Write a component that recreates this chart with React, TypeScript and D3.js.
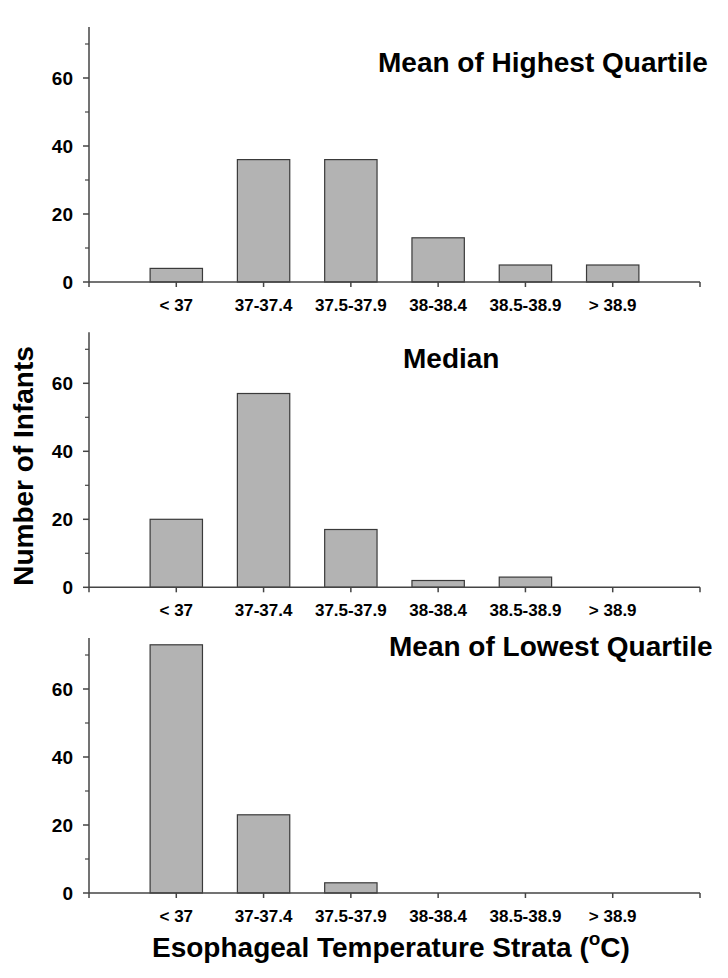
import React, { useEffect, useRef } from 'react';
import * as d3 from 'd3';

const categories = ['< 37', '37-37.4', '37.5-37.9', '38-38.4', '38.5-38.9', '> 38.9'];
const highest = [4, 36, 36, 13, 5, 5];
const median = [20, 57, 17, 2, 3, 0];
const lowest = [73, 23, 3, 0, 0, 0];
const yMajorTicks = [0, 20, 40, 60];
const yMinorTicks = [10, 30, 50, 70];

const panels = [
  { title: 'Mean of Highest Quartile', values: highest, zero: 282, titleX: 378, titleY: 72 },
  { title: 'Median', values: median, zero: 587.3, titleX: 403, titleY: 368 },
  { title: 'Mean of Lowest Quartile', values: lowest, zero: 893, titleX: 389, titleY: 656 },
];

const FONT = '"Liberation Sans", Arial, sans-serif';

const App = () => {
  const ref = useRef<SVGSVGElement>(null);

  useEffect(() => {
    const svg = d3.select(ref.current);
    svg.selectAll('*').remove();

    const left = 89;
    const right = 700;
    // positions 0..7, categories sit at 1..6
    const x = d3.scaleLinear().domain([0, categories.length + 1]).range([left, right]);
    const step = x(1) - x(0);
    const barW = step * 0.6;

    panels.forEach((p) => {
      const y = d3.scaleLinear().domain([0, 75]).range([p.zero, p.zero - 255]);
      const g = svg.append('g');

      // bars
      g.selectAll('.bar')
        .data(p.values.map((v, i) => ({ v, i })).filter((d) => d.v > 0))
        .enter()
        .append('rect')
        .attr('x', (d) => x(d.i + 1) - barW / 2)
        .attr('y', (d) => y(d.v))
        .attr('width', barW)
        .attr('height', (d) => y(0) - y(d.v))
        .attr('fill', '#b3b3b3')
        .attr('stroke', '#3a3a3a')
        .attr('stroke-width', 1.2);

      // y axis
      g.append('line')
        .attr('x1', left).attr('x2', left)
        .attr('y1', y(0)).attr('y2', y(75))
        .attr('stroke', '#444').attr('stroke-width', 1.5);
      g.selectAll('.ymaj')
        .data(yMajorTicks)
        .enter()
        .append('line')
        .attr('x1', left - 6).attr('x2', left)
        .attr('y1', (d) => y(d)).attr('y2', (d) => y(d))
        .attr('stroke', '#444').attr('stroke-width', 1.5);
      g.selectAll('.ymin')
        .data(yMinorTicks)
        .enter()
        .append('line')
        .attr('x1', left - 4).attr('x2', left)
        .attr('y1', (d) => y(d)).attr('y2', (d) => y(d))
        .attr('stroke', '#444').attr('stroke-width', 1.2);
      g.selectAll('.ylab')
        .data(yMajorTicks)
        .enter()
        .append('text')
        .attr('x', 73)
        .attr('y', (d) => y(d))
        .attr('dy', '0.36em')
        .attr('text-anchor', 'end')
        .attr('font-family', FONT)
        .attr('font-weight', 'bold')
        .attr('font-size', 19)
        .text((d) => d);

      // x axis
      g.append('line')
        .attr('x1', left).attr('x2', right)
        .attr('y1', y(0)).attr('y2', y(0))
        .attr('stroke', '#444').attr('stroke-width', 1.5);
      g.selectAll('.xt')
        .data(d3.range(categories.length + 2))
        .enter()
        .append('line')
        .attr('x1', (d) => x(d)).attr('x2', (d) => x(d))
        .attr('y1', y(0)).attr('y2', y(0) + 5)
        .attr('stroke', '#444').attr('stroke-width', 1.5);
      g.selectAll('.xlab')
        .data(categories)
        .enter()
        .append('text')
        .attr('x', (d, i) => x(i + 1))
        .attr('y', y(0) + 29)
        .attr('text-anchor', 'middle')
        .attr('font-family', FONT)
        .attr('font-weight', 'bold')
        .attr('font-size', 17)
        .text((d) => d);

      // panel title
      g.append('text')
        .attr('x', p.titleX)
        .attr('y', p.titleY)
        .attr('font-family', FONT)
        .attr('font-weight', 'bold')
        .attr('font-size', 28)
        .text(p.title);
    });

    // axis titles
    svg.append('text')
      .attr('transform', 'translate(33,466) rotate(-90)')
      .attr('text-anchor', 'middle')
      .attr('font-family', FONT)
      .attr('font-weight', 'bold')
      .attr('font-size', 28)
      .text('Number of Infants');

    const xt = svg.append('text')
      .attr('x', 152)
      .attr('y', 957)
      .attr('font-family', FONT)
      .attr('font-weight', 'bold')
      .attr('font-size', 28);
    xt.append('tspan').text('Esophageal Temperature Strata (');
    xt.append('tspan').attr('font-size', 19).attr('dy', -12).text('o');
    xt.append('tspan').attr('dy', 12).text('C)');
  }, []);

  return (
    <svg
      ref={ref}
      width={728}
      height={978}
      style={{ position: 'absolute', left: 0, top: 0, background: '#fff' }}
    />
  );
};

export default App;
